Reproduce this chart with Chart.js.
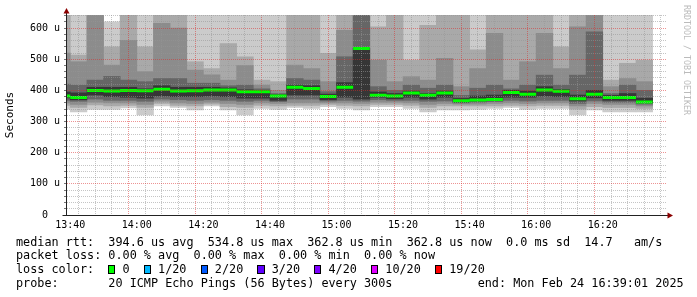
<!DOCTYPE html>
<html>
<head>
<meta charset="utf-8">
<title>SmokePing median RTT</title>
<script src="https://cdn.jsdelivr.net/npm/chart.js@4.4.1/dist/chart.umd.min.js"></script>
<style>
  body { margin: 0; background: #fff; }
  #wrap { position: relative; width: 697px; height: 297px; overflow: hidden; }
  #chart { position: absolute; left: 0; top: 0; }
  .row {
    position: absolute; left: 16px;
    font-family: "DejaVu Sans Mono", monospace; font-size: 11.8px; line-height: 14px;
    white-space: pre; color: #000;
  }
  .sw {
    display: inline-block; width: 1ch; height: 9px; box-sizing: border-box;
    border: 1px solid #000; vertical-align: -1px;
  }
</style>
</head>
<body>
<div id="wrap">
  <canvas id="chart" width="697" height="297"></canvas>
  <div class="row" style="top:235px">median rtt:  394.6 us avg  534.8 us max  362.8 us min  362.8 us now  0.0 ms sd  14.7   am/s</div>
  <div class="row" style="top:248px">packet loss: 0.00 % avg  0.00 % max  0.00 % min  0.00 % now</div>
  <div class="row" id="lossRow" style="top:262px">loss color:  </div>
  <div class="row" style="top:276px">probe:       20 ICMP Echo Pings (56 Bytes) every 300s            end: Mon Feb 24 16:39:01 2025</div>
</div>
<script>
// end time of each 5 minute step
const times = ['13:40', '13:45', '13:50', '13:55', '14:00', '14:05', '14:10', '14:15', '14:20',
  '14:25', '14:30', '14:35', '14:40', '14:45', '14:50', '14:55', '15:00', '15:05', '15:10',
  '15:15', '15:20', '15:25', '15:30', '15:35', '15:40', '15:45', '15:50', '15:55', '16:00',
  '16:05', '16:10', '16:15', '16:20', '16:25', '16:30', '16:35'];

// median rtt in microseconds
const median = [382, 377.5, 400, 398, 400, 399, 404, 398, 399, 401, 401, 396, 396, 382, 410, 406,
  380, 410, 534.8, 384, 382, 392, 384, 392, 367, 369, 371, 393, 388, 401, 397, 373, 388, 377.5,
  377.5, 362.8];

// smoke bands, outermost (band1) to innermost (band5), low and high ping in microseconds
const band1Lo = [340, 331, 339, 339, 344, 321, 350, 345, 337, 350, 337, 321, 342, 339, 345, 342,
  348, 342, 337, 348, 348, 342, 331, 337, 337, 339, 342, 345, 339, 342, 342, 321, 337, 331, 331, 331];
const band1Hi = [642, 642, 642, 620, 642, 642, 642, 642, 642, 642, 642, 642, 642, 642, 642, 642,
  642, 642, 642, 642, 642, 642, 642, 642, 642, 642, 642, 642, 642, 642, 642, 642, 642, 642, 642, 642];
const band2Lo = [352, 345, 353, 350, 352, 345, 358, 352, 350, 356, 348, 345, 352, 350, 352, 352,
  355, 352, 350, 355, 355, 352, 345, 350, 350, 350, 350, 352, 350, 352, 352, 340, 348, 345, 345, 342];
const band2Hi = [642, 513, 642, 540, 642, 540, 642, 642, 492, 470, 550, 508, 433, 428, 642, 642,
  519, 642, 642, 604, 642, 497, 609, 642, 642, 530, 642, 642, 642, 642, 540, 642, 642, 433, 487, 497];
const band3Lo = [360, 355, 362, 360, 360, 355, 365, 360, 358, 362, 358, 355, 360, 358, 360, 360,
  360, 360, 358, 362, 362, 360, 355, 358, 356, 356, 358, 360, 358, 360, 360, 350, 358, 355, 355, 350];
const band3Hi = [520, 492, 642, 481, 561, 460, 615, 600, 465, 450, 433, 480, 417, 400, 481, 470,
  428, 593, 642, 497, 428, 444, 433, 503, 412, 470, 583, 433, 492, 583, 470, 604, 642, 412, 438, 428];
const band4Lo = [368, 365, 372, 368, 368, 365, 372, 370, 368, 370, 368, 365, 368, 364, 372, 372,
  366, 368, 365, 370, 368, 368, 365, 366, 360, 362, 364, 368, 366, 368, 368, 358, 366, 362, 362, 356];
const band4Hi = [420, 417, 433, 445, 433, 428, 438, 438, 423, 423, 415, 417, 405, 390, 438, 433,
  396, 508, 642, 412, 400, 417, 407, 417, 384, 407, 417, 405, 417, 449, 417, 449, 588, 390, 417, 400];
const band5Lo = [376, 370, 385, 380, 378, 375, 382, 380, 380, 382, 380, 375, 375, 368, 385, 385,
  370, 378, 372, 378, 373, 378, 372, 378, 362, 366, 368, 378, 378, 382, 380, 366, 376, 368, 368, 360];
const band5Hi = [395, 392, 410, 410, 410, 405, 415, 410, 410, 410, 408, 402, 400, 386, 417, 415,
  388, 425, 535, 395, 390, 398, 390, 398, 374, 382, 385, 400, 398, 412, 403, 385, 400, 384, 390, 375];

const xTickLabels = ['13:40', '14:00', '14:20', '14:40', '15:00', '15:20', '15:40', '16:00', '16:20'];
const yTickLabels = ['0', '100 u', '200 u', '300 u', '400 u', '500 u', '600 u'];

const lossLabels = ['0', '1/20', '2/20', '3/20', '4/20', '10/20', '19/20'];
const lossColors = ['#00ff00', '#00b8ff', '#0059ff', '#5e00ff', '#7e00ff', '#dd00ff', '#ff0000'];

const bandColors = ['#cbcbcb', '#a9a9a9', '#8c8c8c', '#666666', '#363636'];

// loss color legend row
const lossRow = document.getElementById('lossRow');
lossLabels.forEach((lbl, i) => {
  const sw = document.createElement('span');
  sw.className = 'sw';
  sw.style.background = lossColors[i];
  lossRow.appendChild(sw);
  lossRow.appendChild(document.createTextNode(' ' + lbl + (i < lossLabels.length - 1 ? '  ' : '')));
});

const toMin = (s) => {
  const [h, m] = s.split(':').map(Number);
  return h * 60 + m;
};
const fmt = (v) => {
  const r = Math.round(v);
  return String(Math.floor(r / 60)).padStart(2, '0') + ':' + String(r % 60).padStart(2, '0');
};

const stepMin = 5;
const viewEnd = toMin('16:39') + 1 / 60;
const viewStart = viewEnd - 180;
const tEnd = times.map(toMin);

const majorGrid = 'rgba(220, 40, 40, 0.5)';
const minorGrid = 'rgba(150, 150, 150, 0.55)';

const medianPts = [];
tEnd.forEach((t, i) => {
  medianPts.push({ x: t - stepMin, y: median[i] });
  medianPts.push({ x: t, y: median[i] });
  medianPts.push({ x: t, y: null });
});

const datasets = [{
  type: 'line',
  label: 'median rtt',
  data: medianPts,
  borderColor: '#00ff00',
  borderWidth: 3,
  borderCapStyle: 'butt',
  pointRadius: 0,
  spanGaps: false,
  order: 0,
}];

const bands = [
  [band1Lo, band1Hi], [band2Lo, band2Hi], [band3Lo, band3Hi], [band4Lo, band4Hi], [band5Lo, band5Hi],
];
bands.forEach(([lo, hi], k) => {
  datasets.push({
    type: 'bar',
    label: 'smoke ' + (k + 1),
    data: tEnd.map((t, i) => ({ x: t - stepMin / 2, y: [lo[i], hi[i]] })),
    backgroundColor: bandColors[k],
    borderWidth: 0,
    grouped: false,
    barPercentage: 1,
    categoryPercentage: 1,
    order: bands.length - k,
  });
});

// axes with arrows and the rrdtool credit
const decorations = {
  id: 'decorations',
  afterDraw(chart) {
    const { ctx, chartArea: { left, right, top, bottom } } = chart;
    const ax = left - 0.5;
    const ay = bottom + 0.5;
    ctx.save();
    ctx.strokeStyle = '#222';
    ctx.lineWidth = 1;
    ctx.beginPath();
    ctx.moveTo(ax, ay);
    ctx.lineTo(ax, top - 4);
    ctx.moveTo(ax - 4, ay);
    ctx.lineTo(right + 3, ay);
    ctx.stroke();

    ctx.fillStyle = '#8b0000';
    ctx.beginPath();
    ctx.moveTo(ax, top - 7);
    ctx.lineTo(ax - 3, top - 1.5);
    ctx.lineTo(ax + 3, top - 1.5);
    ctx.closePath();
    ctx.fill();
    ctx.beginPath();
    ctx.moveTo(right + 7, ay);
    ctx.lineTo(right + 1.5, ay - 3);
    ctx.lineTo(right + 1.5, ay + 3);
    ctx.closePath();
    ctx.fill();

    ctx.translate(686, 5);
    ctx.rotate(Math.PI / 2);
    ctx.fillStyle = '#bbbbbb';
    ctx.font = '8.3px "DejaVu Sans Mono"';
    ctx.textBaseline = 'middle';
    ctx.textAlign = 'left';
    ctx.fillText('RRDTOOL / TOBI OETIKER', 0, 0);
    ctx.restore();
  },
};

const tickValue = (c) => (c.tick ? c.tick.value : NaN);

Chart.defaults.font.family = '"DejaVu Sans Mono", monospace';
Chart.defaults.color = '#000';

new Chart(document.getElementById('chart').getContext('2d'), {
  type: 'bar',
  data: { datasets },
  options: {
    responsive: false,
    animation: false,
    events: [],
    layout: { padding: { left: 0, top: 15, right: 31, bottom: 62 } },
    plugins: {
      legend: { display: false },
      tooltip: { enabled: false },
    },
    scales: {
      x: {
        type: 'linear',
        min: viewStart,
        max: viewEnd,
        offset: false,
        afterBuildTicks: (axis) => {
          const ticks = [];
          for (let v = toMin(times[0]); v < viewEnd; v += stepMin) ticks.push({ value: v });
          axis.ticks = ticks;
        },
        afterFit: (scale) => { scale.height = 20; },
        grid: {
          z: 1,
          drawTicks: false,
          color: (c) => (xTickLabels.includes(fmt(tickValue(c))) ? majorGrid : minorGrid),
        },
        border: { display: false, dash: [1, 1] },
        ticks: {
          autoSkip: false,
          maxRotation: 0,
          padding: 4,
          font: { size: 10 },
          callback: (v) => (xTickLabels.includes(fmt(v)) ? fmt(v) : ''),
        },
      },
      y: {
        min: 0,
        max: 642,
        afterBuildTicks: (axis) => {
          const ticks = [];
          for (let v = 0; v <= 640; v += 20) ticks.push({ value: v });
          axis.ticks = ticks;
        },
        afterFit: (scale) => { scale.width = 67; },
        grid: {
          z: 1,
          drawTicks: true,
          tickLength: 3,
          tickColor: '#777',
          color: (c) => (tickValue(c) % 100 === 0 ? majorGrid : minorGrid),
        },
        border: { display: false, dash: [1, 1] },
        title: {
          display: true,
          text: 'Seconds',
          font: { size: 11 },
          padding: { top: 4, bottom: 0 },
        },
        ticks: {
          autoSkip: false,
          padding: 4,
          font: { size: 10 },
          callback: (v) => {
            if (v % 100 !== 0) return '';
            const lbl = yTickLabels[v / 100];
            return lbl.includes(' ') ? lbl : lbl + '  ';
          },
        },
      },
    },
  },
  plugins: [decorations],
});
</script>
</body>
</html>
